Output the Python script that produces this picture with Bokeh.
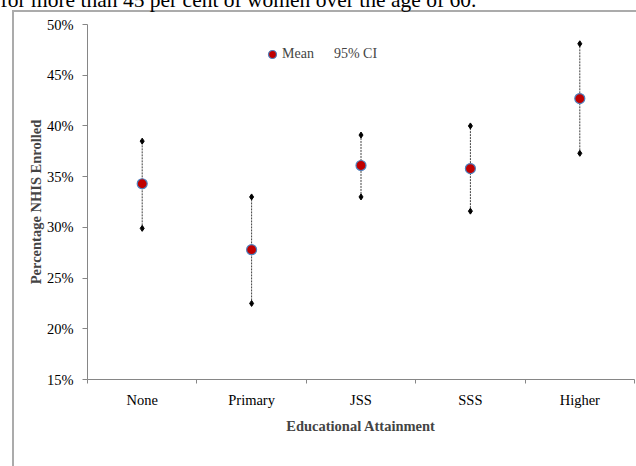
from bokeh.plotting import figure
from bokeh.models import (ColumnDataSource, FixedTicker, NumeralTickFormatter, Range1d,
                          Legend, LegendItem, Label)
from bokeh.embed import file_html
from bokeh.resources import INLINE

categories = ["None", "Primary", "JSS", "SSS", "Higher"]
mean = [0.343, 0.278, 0.361, 0.358, 0.427]
ci_low = [0.299, 0.225, 0.330, 0.316, 0.373]
ci_high = [0.385, 0.330, 0.391, 0.400, 0.481]
y_ticks = [0.15, 0.20, 0.25, 0.30, 0.35, 0.40, 0.45, 0.50]
heading = "for more than 45 per cent of women over the age of 60."

SERIF = "Liberation Serif"
GRAY = "#868686"
FRAME_GRAY = "#ABABAB"
FS = "14.5px"

xs = list(range(1, len(categories) + 1))
src = ColumnDataSource(dict(x=xs, mean=mean, lo=ci_low, hi=ci_high))

p = figure(width=636, height=466, x_range=Range1d(0.5, len(categories) + 0.5),
           y_range=Range1d(y_ticks[0], y_ticks[-1]), output_backend="svg",
           toolbar_location=None, min_border_left=87, min_border_right=2,
           min_border_top=24, min_border_bottom=87)
p.xgrid.visible = False
p.ygrid.visible = False
p.outline_line_color = None
p.background_fill_color = "white"
p.border_fill_color = None
p.styles = {
    "background": (f"linear-gradient({FRAME_GRAY},{FRAME_GRAY}) 12px 10px / 2px 100% no-repeat, "
                   f"linear-gradient({FRAME_GRAY},{FRAME_GRAY}) 12px 10px / 100% 2px no-repeat, white")
}

seg = p.segment(x0="x", y0="lo", x1="x", y1="hi", source=src, line_dash="2 1",
                line_color="#404040", line_width=1)
p.scatter(x="x", y="lo", source=src, marker="diamond", size=6, color="black")
p.scatter(x="x", y="hi", source=src, marker="diamond", size=6, color="black")
mean_r = p.scatter(x="x", y="mean", source=src, size=10, fill_color="#C00000",
                   line_color="#4F81BD", line_width=1.2)
dummy = p.scatter(x="x", y="mean", source=src, size=1, fill_alpha=0, line_alpha=0)

legend = Legend(items=[LegendItem(label="Mean", renderers=[mean_r]),
                       LegendItem(label="95% CI", renderers=[dummy])],
                orientation="horizontal", location=(175, 315),
                border_line_color=None, background_fill_alpha=0,
                padding=0, margin=0, spacing=0, glyph_width=20, glyph_height=20,
                label_standoff=0, label_height=20,
                label_text_font=SERIF, label_text_font_size="14px")
p.add_layout(legend)

# y axis
ya = p.yaxis[0]
ya.ticker = FixedTicker(ticks=y_ticks)
ya.formatter = NumeralTickFormatter(format="0%")
ya.major_tick_out = 5
ya.major_tick_in = 0
ya.minor_tick_out = 0
ya.minor_tick_in = 0
ya.axis_line_color = GRAY
ya.major_tick_line_color = GRAY
ya.major_label_standoff = 9
ya.major_label_text_font = SERIF
ya.major_label_text_font_size = FS
ya.major_label_text_color = "black"
ya.axis_label = "Percentage NHIS Enrolled"
ya.axis_label_text_font = SERIF
ya.axis_label_text_font_size = FS
ya.axis_label_text_font_style = "bold"
ya.axis_label_standoff = 0

# x axis
xa = p.xaxis[0]
xa.ticker = FixedTicker(ticks=xs, minor_ticks=[x - 0.5 for x in xs] + [xs[-1] + 0.5])
xa.major_label_overrides = {x: c for x, c in zip(xs, categories)}
xa.major_tick_out = 0
xa.major_tick_in = 0
xa.minor_tick_out = 4
xa.minor_tick_in = 0
xa.axis_line_color = GRAY
xa.minor_tick_line_color = GRAY
xa.major_label_standoff = 8
xa.major_label_text_font = SERIF
xa.major_label_text_font_size = FS
xa.major_label_text_color = "black"
xa.axis_label = "Educational Attainment"
xa.axis_label_text_font = SERIF
xa.axis_label_text_font_size = FS
xa.axis_label_text_font_style = "bold"
xa.axis_label_standoff = 7

p.add_layout(Label(x=0, y=-1, x_units="canvas", y_units="canvas", text=heading,
                   text_font=SERIF, text_font_size="21.5px", text_color="black",
                   text_baseline="alphabetic"), "below")

open("out.html", "w").write(file_html(p, INLINE))
